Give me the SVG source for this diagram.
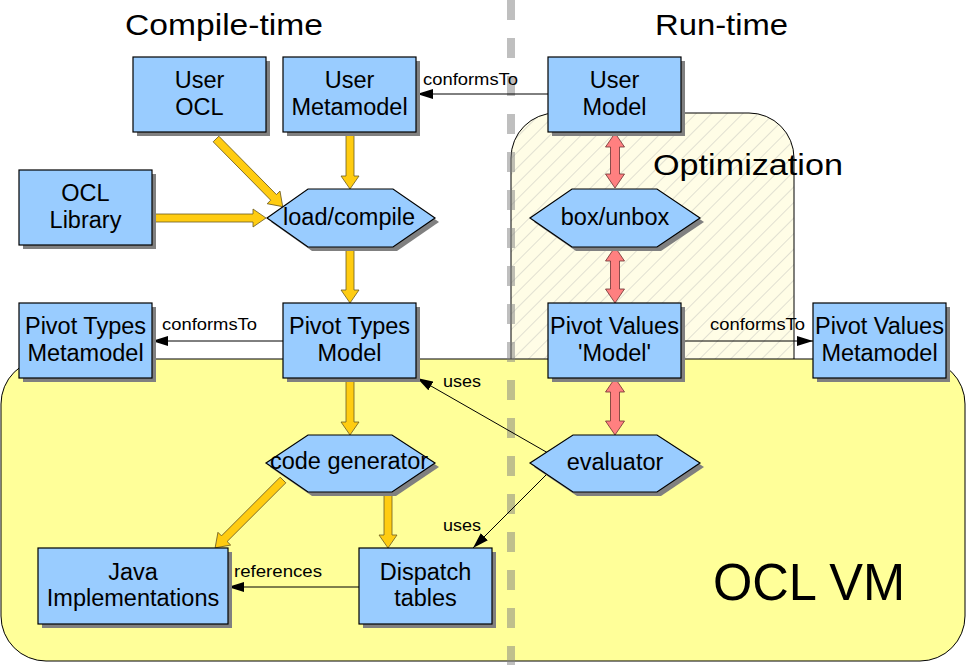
<svg xmlns="http://www.w3.org/2000/svg" width="968" height="665" viewBox="0 0 968 665">
<defs>
<style>
.box{fill:#99ccff;stroke:#000;stroke-width:1.2}
.shd{fill:#808080}
.t{font-family:"Liberation Sans",Arial,sans-serif;font-size:23.5px;fill:#000;text-anchor:middle}
.lbl{font-family:"Liberation Sans",Arial,sans-serif;font-size:16px;fill:#000}
.title{font-family:"Liberation Sans",Arial,sans-serif;font-size:30px;fill:#000}
.ya{fill:#ffcc11;stroke:#6b5a20;stroke-width:0.8}
.ra{fill:#ff8080;stroke:#6b3030;stroke-width:0.8}
.con{fill:none;stroke:#000;stroke-width:1;marker-end:url(#ah)}
</style>
<pattern id="hatch" patternUnits="userSpaceOnUse" width="11" height="11" patternTransform="rotate(45)">
<rect width="11" height="11" fill="#fffde6"/>
<line x1="0" y1="0" x2="0" y2="11" stroke="#c4c4bc" stroke-width="1"/>
</pattern>
<marker id="ah" markerUnits="userSpaceOnUse" markerWidth="16" markerHeight="10" refX="16" refY="5" orient="auto">
<path d="M0,0 L16,5 L0,10 z" fill="#000"/>
</marker>
</defs>
<rect width="968" height="665" fill="#fff"/>

<g id="optimization">
<rect x="511" y="113" width="283" height="300" rx="45" ry="45" fill="url(#hatch)" stroke="#000" stroke-width="1"/>
<text class="title" x="653" y="175" textLength="190" lengthAdjust="spacingAndGlyphs">Optimization</text>
</g>

<g id="ocl-vm">
<rect x="1" y="359" width="964" height="302" rx="45" ry="45" fill="#ffff99" stroke="#000" stroke-width="1"/>
<text x="713" y="600" font-family="Liberation Sans, Arial, sans-serif" font-size="51" textLength="192" lengthAdjust="spacingAndGlyphs">OCL VM</text>
</g>

<g id="separator">
<line x1="511" y1="0" x2="511" y2="665" stroke="#808080" stroke-opacity="0.5" stroke-width="8" stroke-dasharray="20 18"/>
</g>

<g id="titles">
<text class="title" x="125" y="35" textLength="198" lengthAdjust="spacingAndGlyphs">Compile-time</text>
<text class="title" x="655" y="35" textLength="133" lengthAdjust="spacingAndGlyphs">Run-time</text>
</g>

<g id="connectors">
<polygon class="ya" transform="translate(350,132) rotate(90)" points="0,-4 44,-4 44,-9 57,0 44,9 44,4 0,4"/>
<polygon class="ya" transform="translate(216,139) rotate(45.4)" points="0,-4 82,-4 82,-9 95,0 82,9 82,4 0,4"/>
<polygon class="ya" transform="translate(152,218)" points="0,-4 101,-4 101,-9 114,0 101,9 101,4 0,4"/>
<polygon class="ya" transform="translate(350,247) rotate(90)" points="0,-4 43,-4 43,-9 56,0 43,9 43,4 0,4"/>
<polygon class="ya" transform="translate(350,378) rotate(90)" points="0,-4 44,-4 44,-9 57,0 44,9 44,4 0,4"/>
<polygon class="ya" transform="translate(283,480) rotate(135)" points="0,-4 83,-4 83,-9 96,0 83,9 83,4 0,4"/>
<polygon class="ya" transform="translate(388,492) rotate(90)" points="0,-4 43,-4 43,-9 56,0 43,9 43,4 0,4"/>
<polygon class="ra" transform="translate(615,133) rotate(90)" points="0,0 14,-9.5 14,-4.5 41,-4.5 41,-9.5 55,0 41,9.5 41,4.5 14,4.5 14,9.5"/>
<polygon class="ra" transform="translate(615,247) rotate(90)" points="0,0 14,-9.5 14,-4.5 42,-4.5 42,-9.5 56,0 42,9.5 42,4.5 14,4.5 14,9.5"/>
<polygon class="ra" transform="translate(615,378) rotate(90)" points="0,0 14,-9.5 14,-4.5 43,-4.5 43,-9.5 57,0 43,9.5 43,4.5 14,4.5 14,9.5"/>
<path class="con" d="M548,94 L417,94"/>
<text class="lbl" x="423" y="85" textLength="95" lengthAdjust="spacingAndGlyphs">conformsTo</text>
<path class="con" d="M283,341 L152,341"/>
<text class="lbl" x="162" y="330" textLength="95" lengthAdjust="spacingAndGlyphs">conformsTo</text>
<path class="con" d="M681,341 L813,341"/>
<text class="lbl" x="710" y="330" textLength="95" lengthAdjust="spacingAndGlyphs">conformsTo</text>
<path class="con" d="M548,453 L417,378"/>
<text class="lbl" x="443" y="387" textLength="38" lengthAdjust="spacingAndGlyphs">uses</text>
<path class="con" d="M548,473 L473,548"/>
<text class="lbl" x="443" y="531" textLength="38" lengthAdjust="spacingAndGlyphs">uses</text>
<path class="con" d="M359,587 L228,587"/>
<text class="lbl" x="234" y="577" textLength="88" lengthAdjust="spacingAndGlyphs">references</text>
</g>

<g id="user-ocl">
<rect class="shd" x="137" y="61" width="133" height="75"/>
<rect class="box" x="133" y="57" width="133" height="75"/>
<text class="t" x="199.5" y="88">User</text>
<text class="t" x="199.5" y="115">OCL</text>
</g>
<g id="user-metamodel">
<rect class="shd" x="287" y="61" width="133" height="75"/>
<rect class="box" x="283" y="57" width="133" height="75"/>
<text class="t" x="349.5" y="88">User</text>
<text class="t" x="349.5" y="115">Metamodel</text>
</g>
<g id="user-model">
<rect class="shd" x="552" y="61" width="133" height="75"/>
<rect class="box" x="548" y="57" width="133" height="75"/>
<text class="t" x="614.5" y="88">User</text>
<text class="t" x="614.5" y="115">Model</text>
</g>
<g id="ocl-library">
<rect class="shd" x="23" y="174" width="133" height="75"/>
<rect class="box" x="19" y="170" width="133" height="75"/>
<text class="t" x="85.5" y="201">OCL</text>
<text class="t" x="85.5" y="228">Library</text>
</g>
<g id="load-compile">
<polygon class="shd" transform="translate(4,4)" points="267,218 308,189 393,189 435,218 393,247 308,247"/>
<polygon class="box" points="267,218 308,189 393,189 435,218 393,247 308,247"/>
<text class="t" x="349" y="225">load/compile</text>
</g>
<g id="box-unbox">
<polygon class="shd" transform="translate(4,4)" points="530,218 572,189 657,189 700,218 657,247 572,247"/>
<polygon class="box" points="530,218 572,189 657,189 700,218 657,247 572,247"/>
<text class="t" x="615" y="225">box/unbox</text>
</g>
<g id="pivot-types-metamodel">
<rect class="shd" x="23" y="307" width="133" height="75"/>
<rect class="box" x="19" y="303" width="133" height="75"/>
<text class="t" x="85.5" y="334">Pivot Types</text>
<text class="t" x="85.5" y="361">Metamodel</text>
</g>
<g id="pivot-types-model">
<rect class="shd" x="287" y="307" width="133" height="75"/>
<rect class="box" x="283" y="303" width="133" height="75"/>
<text class="t" x="349.5" y="334">Pivot Types</text>
<text class="t" x="349.5" y="361">Model</text>
</g>
<g id="pivot-values-model">
<rect class="shd" x="552" y="307" width="133" height="75"/>
<rect class="box" x="548" y="303" width="133" height="75"/>
<text class="t" x="614.5" y="334">Pivot Values</text>
<text class="t" x="614.5" y="361">'Model'</text>
</g>
<g id="pivot-values-metamodel">
<rect class="shd" x="817" y="307" width="133" height="75"/>
<rect class="box" x="813" y="303" width="133" height="75"/>
<text class="t" x="879.5" y="334">Pivot Values</text>
<text class="t" x="879.5" y="361">Metamodel</text>
</g>
<g id="code-generator">
<polygon class="shd" transform="translate(4,4)" points="266,463 308,435 392,435 435,463 392,492 308,492"/>
<polygon class="box" points="266,463 308,435 392,435 435,463 392,492 308,492"/>
<text class="t" x="349" y="469">code generator</text>
</g>
<g id="evaluator">
<polygon class="shd" transform="translate(4,4)" points="530,463 573,435 657,435 700,463 657,492 573,492"/>
<polygon class="box" points="530,463 573,435 657,435 700,463 657,492 573,492"/>
<text class="t" x="615" y="470">evaluator</text>
</g>
<g id="java-implementations">
<rect class="shd" x="42" y="552" width="190" height="76"/>
<rect class="box" x="38" y="548" width="190" height="76"/>
<text class="t" x="133" y="580">Java</text>
<text class="t" x="133" y="606">Implementations</text>
</g>
<g id="dispatch-tables">
<rect class="shd" x="363" y="552" width="133" height="76"/>
<rect class="box" x="359" y="548" width="133" height="76"/>
<text class="t" x="425.5" y="580">Dispatch</text>
<text class="t" x="425.5" y="606">tables</text>
</g>
</svg>
